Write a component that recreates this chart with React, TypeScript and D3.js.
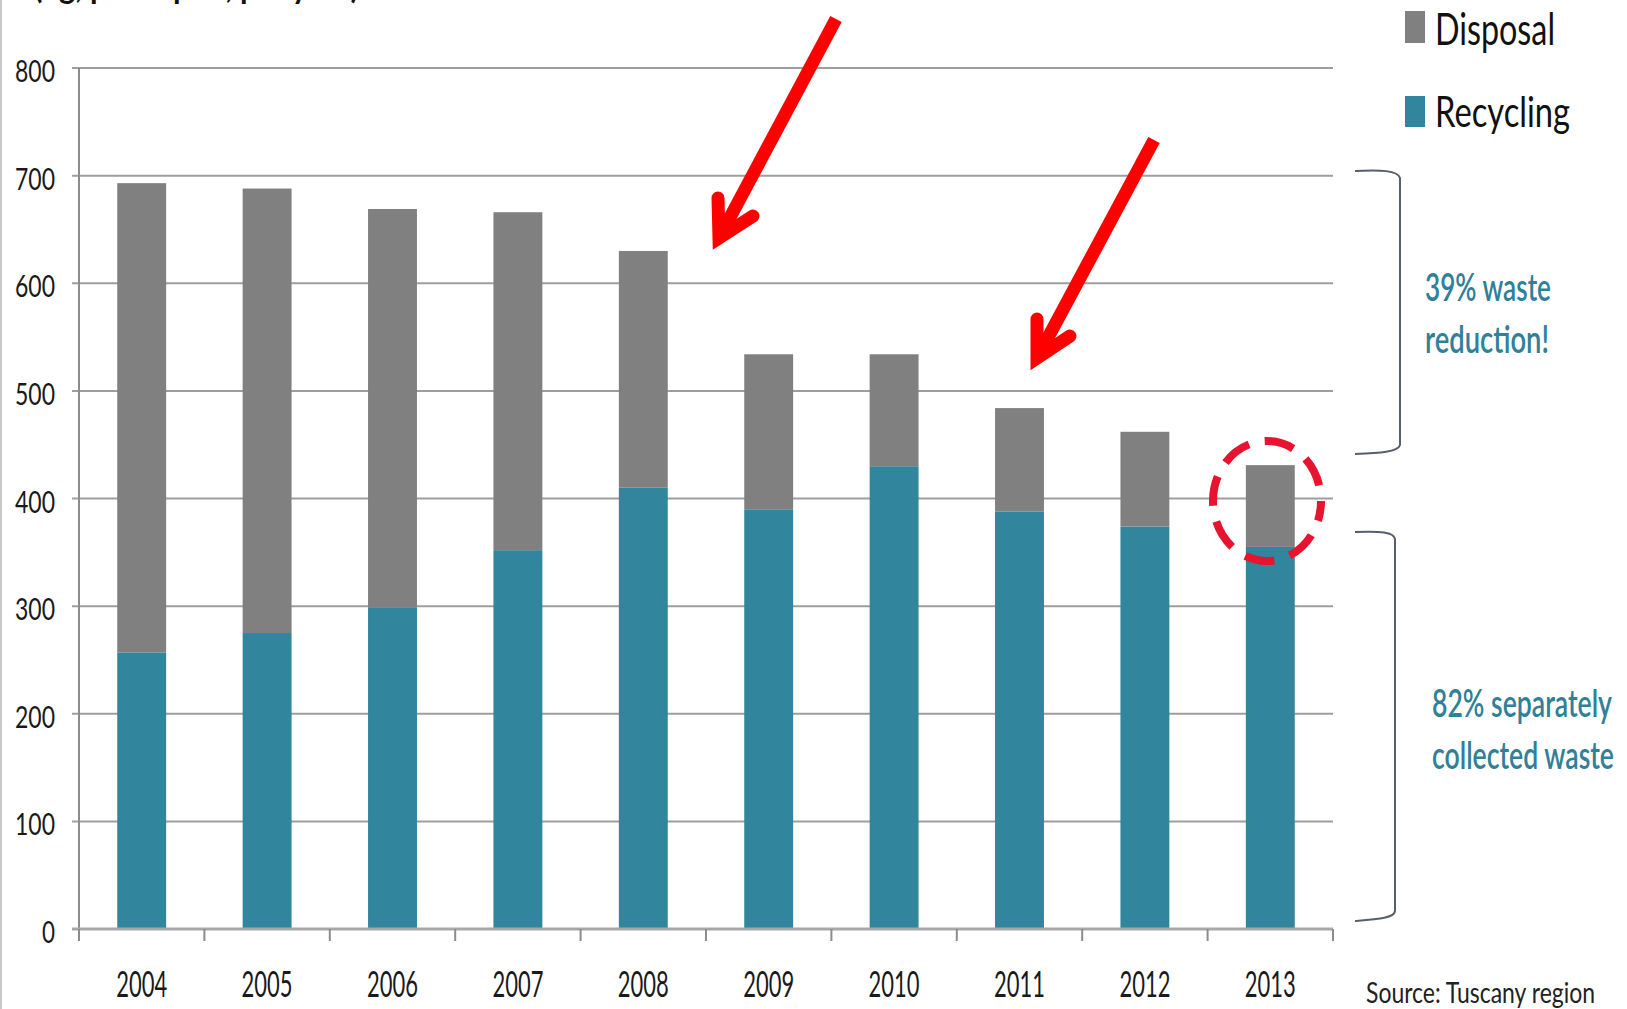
import React from 'react';
import * as d3 from 'd3';

const years = ['2004', '2005', '2006', '2007', '2008', '2009', '2010', '2011', '2012', '2013'];
const recycling = [257, 275, 299, 352, 410, 390, 430, 388, 374, 355];
const disposal = [436, 413, 370, 314, 220, 144, 104, 96, 88, 76];
const yTicks = [0, 100, 200, 300, 400, 500, 600, 700, 800];
const seriesNames = ['Recycling', 'Disposal'];
const seriesColors: Record<string, string> = { Recycling: '#31859c', Disposal: '#808080' };

const W = 1627;
const H = 1009;
const FONT = 'Lato, "Open Sans", "Noto Sans", sans-serif';

export default function App() {
  const rows = years.map((y, i) => ({ year: y, Recycling: recycling[i], Disposal: disposal[i] }));
  const stack = d3.stack<any>().keys(seriesNames)(rows);

  const x = d3.scaleBand<string>().domain(years).range([79, 1333]).paddingInner(0.61).paddingOuter(0.305);
  const y = d3.scaleLinear().domain([0, 800]).range([929, 68]);
  const step = x.step();
  const half = (step - x.bandwidth()) / 2;
  const boundaries = years.map((yr) => (x(yr) as number) - half).concat([1333]);

  return (
    <svg width={W} height={H} viewBox={`0 0 ${W} ${H}`} style={{ position: 'absolute', left: 0, top: 0, background: '#fff' }}>
      <rect x={0} y={0} width={W} height={H} fill="#fff" />
      <line x1={1} x2={1} y1={0} y2={H} stroke="#c8c8c8" strokeWidth={2} />
      {/* partially visible title (cut at the top edge, as in the reference) */}
      <text x={34} y={-2} fontFamily={FONT} fontWeight={700} fontSize={34} fill="#111" textLength={325} lengthAdjust="spacingAndGlyphs">(kg, per capita, per year)</text>

      {/* gridlines */}
      {yTicks.filter((t) => t > 0).map((t) => (
        <line key={t} x1={72} x2={1333} y1={y(t)} y2={y(t)} stroke="#9e9e9e" strokeWidth={2} />
      ))}
      {/* y axis */}
      <line x1={79} x2={79} y1={y(800)} y2={941} stroke="#8c8c8c" strokeWidth={2} />
      {yTicks.map((t) => (
        <text key={t} x={55} y={y(t) + 14} textAnchor="end" fontFamily={FONT} fontSize={31} fill="#1a1a1a"
          textLength={t === 0 ? 13 : 40} lengthAdjust="spacingAndGlyphs">{t}</text>
      ))}

      {/* bars */}
      {stack.map((s) => (
        <g key={s.key} fill={seriesColors[s.key]}>
          {s.map((d: any) => (
            <rect key={d.data.year} x={x(d.data.year)} width={x.bandwidth()} y={y(d[1])} height={y(d[0]) - y(d[1])} />
          ))}
        </g>
      ))}

      {/* x axis */}
      <line x1={72} x2={1333} y1={y(0)} y2={y(0)} stroke="#a8a8a8" strokeWidth={3} />
      {boundaries.map((bx, i) => (
        <line key={i} x1={bx} x2={bx} y1={y(0)} y2={941} stroke="#8c8c8c" strokeWidth={2} />
      ))}
      {years.map((yr) => (
        <text key={yr} x={(x(yr) as number) + x.bandwidth() / 2} y={997} textAnchor="middle" fontFamily={FONT} fontSize={37}
          fill="#1a1a1a" textLength={51} lengthAdjust="spacingAndGlyphs">{yr}</text>
      ))}

      {/* legend */}
      <rect x={1405} y={11} width={20} height={32} fill={seriesColors.Disposal} />
      <text x={1435} y={45} fontFamily={FONT} fontSize={45} fill="#111" textLength={120} lengthAdjust="spacingAndGlyphs">Disposal</text>
      <rect x={1405} y={96} width={20} height={31} fill={seriesColors.Recycling} />
      <text x={1435} y={127} fontFamily={FONT} fontSize={43} fill="#111" textLength={135} lengthAdjust="spacingAndGlyphs">Recycling</text>

      {/* brackets */}
      <path d="M1355,171 C1380,170 1398,170 1400,178 L1400,445 C1398,452 1380,453 1355,454" fill="none" stroke="#56606c" strokeWidth={2} />
      <path d="M1355,532 C1380,531 1394,532 1395,539 L1395,911 C1394,918 1380,919 1355,921" fill="none" stroke="#56606c" strokeWidth={2} />

      {/* annotations */}
      <g fontFamily={FONT} fontSize={38} fill="#2f8098" fontWeight={600}>
        <text x={1425} y={301} textLength={126} lengthAdjust="spacingAndGlyphs">39% waste</text>
        <text x={1425} y={353} textLength={124} lengthAdjust="spacingAndGlyphs">reduction!</text>
        <text x={1432} y={717} textLength={180} lengthAdjust="spacingAndGlyphs">82% separately</text>
        <text x={1432} y={769} textLength={182} lengthAdjust="spacingAndGlyphs">collected waste</text>
      </g>
      <text x={1366} y={1003} fontFamily={FONT} fontSize={29} fill="#222" textLength={229} lengthAdjust="spacingAndGlyphs">Source:  Tuscany region</text>

      {/* red arrows */}
      <g stroke="#ff0000" strokeWidth={13} fill="none">
        <line x1={836} y1={19} x2={719} y2={238} strokeLinecap="butt" />
        <polyline points="718,198 719,238 753,216" strokeLinecap="round" strokeLinejoin="miter" />
        <line x1={1154} y1={140} x2={1037} y2={358} strokeLinecap="butt" />
        <polyline points="1037,319 1037,358 1070,336" strokeLinecap="round" strokeLinejoin="miter" />
      </g>

      {/* dashed circle */}
      <ellipse cx={1267} cy={501} rx={54} ry={60} fill="none" stroke="#e8132f" strokeWidth={8} strokeDasharray="30 16" strokeDashoffset={10} />
    </svg>
  );
}
